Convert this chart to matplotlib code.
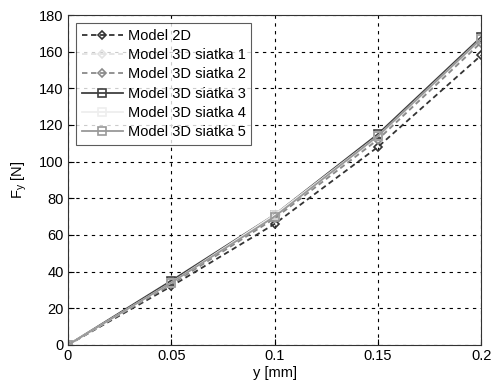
import matplotlib
matplotlib.use("Agg")
import matplotlib.pyplot as plt

plt.rcParams['font.family'] = ['Liberation Sans', 'DejaVu Sans']

y_mm = [0, 0.05, 0.1, 0.15, 0.2]
labels = ["Model 2D", "Model 3D siatka 1", "Model 3D siatka 2",
          "Model 3D siatka 3", "Model 3D siatka 4", "Model 3D siatka 5"]
f_2d = [0, 32, 66, 108, 158]
f_3d1 = [0, 34, 70, 113, 166]
f_3d2 = [0, 33, 69, 112, 165]
f_3d3 = [0, 35, 71, 115, 168]
f_3d4 = [0, 34, 71, 114, 167]
f_3d5 = [0, 34, 70, 114, 167]
series = [f_2d, f_3d1, f_3d2, f_3d3, f_3d4, f_3d5]

colors = ['#333333', '#e3e3e3', '#8a8a8a', '#404040', '#eeeeee', '#999999']
styles = ['--', '--', '--', '-', '-', '-']
markers = ['D', 'D', 'D', 's', 's', 's']
msizes = [4.5, 4.5, 4.5, 5.5, 5.5, 5.5]

fig = plt.figure(figsize=(4.92, 3.85), dpi=100)
ax = fig.add_axes([0.138, 0.104, 0.840, 0.857])
for vals, lab, c, ls, m, ms in zip(series, labels, colors, styles, markers, msizes):
    ax.plot(y_mm, vals, linestyle=ls, color=c, marker=m, markersize=ms,
            markerfacecolor='none', markeredgecolor=c, markeredgewidth=1.2,
            linewidth=1.3, label=lab, dashes=(3, 2) if ls == '--' else (None, None))

ax.set_xlim(0, 0.2)
ax.set_ylim(0, 180)
ax.set_xticks([0, 0.05, 0.1, 0.15, 0.2])
ax.set_xticklabels(['0', '0.05', '0.1', '0.15', '0.2'])
ax.set_yticks(range(0, 181, 20))
ax.grid(True, linestyle=(0, (3, 4)), color='black', linewidth=0.8)
ax.tick_params(direction='in', labelsize=10.5, length=4, pad=3)
ax.set_xlabel('y [mm]', fontsize=10.5, labelpad=2)
ax.set_ylabel('F$_\\mathregular{y}$ [N]', fontsize=10.5, labelpad=7)
for s in ax.spines.values():
    s.set_color('#333333')
leg = ax.legend(loc='upper left', fontsize=10.5, frameon=True, fancybox=False,
                edgecolor='#333333', borderaxespad=0.55, handlelength=2.8,
                handletextpad=0.35, labelspacing=0.36, borderpad=0.4)
leg.get_frame().set_linewidth(0.8)
fig.savefig('out.png', dpi=100)
